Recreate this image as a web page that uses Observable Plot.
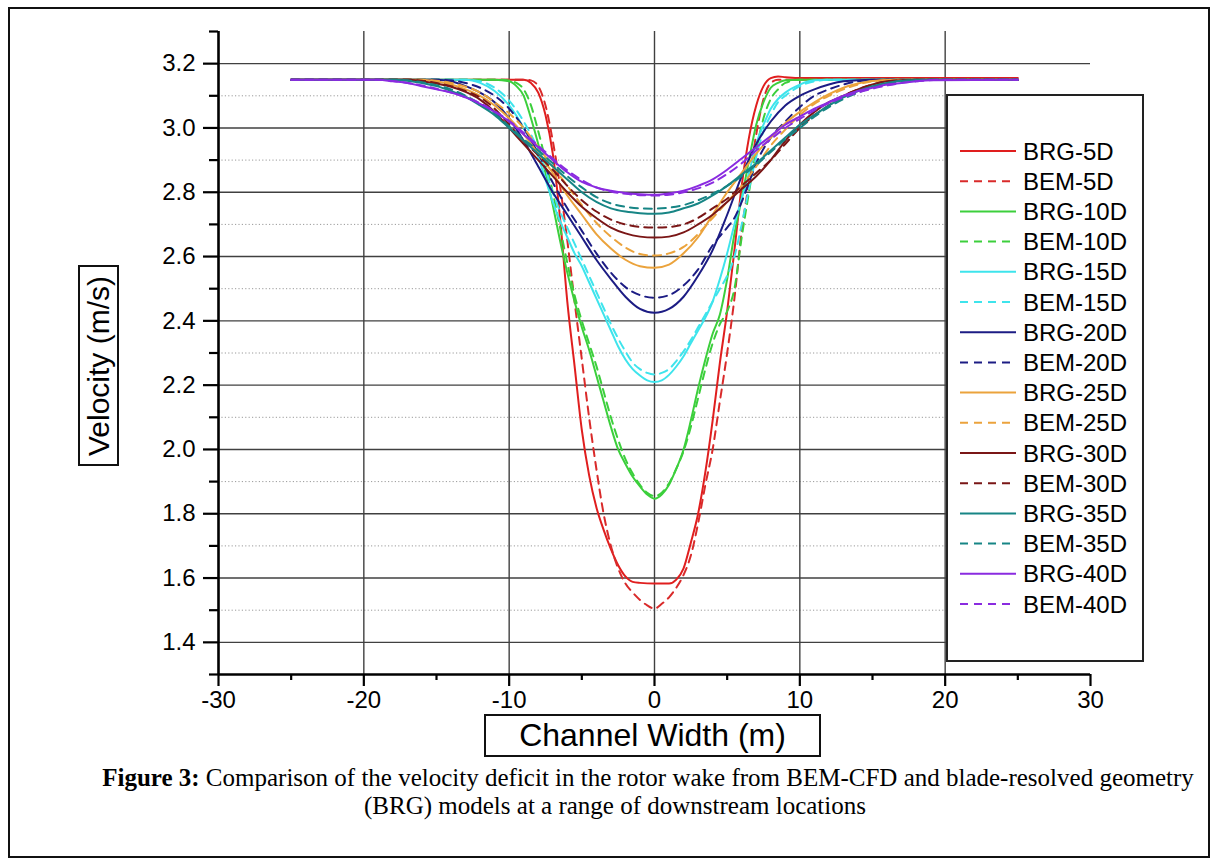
<!DOCTYPE html>
<html><head><meta charset="utf-8">
<script src="https://cdn.jsdelivr.net/npm/d3@7"></script>
<script src="https://cdn.jsdelivr.net/npm/@observablehq/plot@0.6"></script>
<style>
html,body{margin:0;padding:0;background:#fff;}
body{width:1218px;height:866px;position:relative;overflow:hidden;font-family:"Liberation Sans",Arial,sans-serif;}
#frame{position:absolute;left:8px;top:7px;width:1202px;height:851px;border:2px solid #111;box-sizing:border-box;}
#chart{position:absolute;left:0;top:0;}
#legend{position:absolute;left:946px;top:94px;width:198px;height:568px;border:2px solid #222;box-sizing:border-box;background:#fff;}
#ybox{position:absolute;left:78px;top:265px;width:41px;height:201px;border:2px solid #111;box-sizing:border-box;background:#fff;}
#ybox span{position:absolute;left:50%;top:50%;transform:translate(-50%,-50%) rotate(-90deg);white-space:nowrap;font-size:30px;}
#xbox{position:absolute;left:484px;top:714px;width:337px;height:43px;border:2px solid #111;box-sizing:border-box;background:#fff;text-align:center;font-size:32px;line-height:39px;}
.cap{position:absolute;left:0;width:1218px;text-align:center;font-family:"Liberation Serif","Times New Roman",serif;font-size:25px;color:#000;white-space:nowrap;}
</style></head>
<body>
<div id="frame"></div>
<div id="chart"></div>
<div id="legend"></div>
<div id="ybox"><span>Velocity (m/s)</span></div>
<div id="xbox">Channel Width (m)</div>
<div class="cap" id="cap1" style="top:764px;left:39px;"><b>Figure 3:</b> Comparison of the velocity deficit in the rotor wake from BEM-CFD and blade-resolved geometry</div>
<div class="cap" id="cap2" style="top:792px;left:6px;">(BRG) models at a range of downstream locations</div>
<script>
// ---- data (x in m, velocity in m/s) ----
const brg5 = [[-25,3.15],[-10,3.15],[-9,3.15],[-8.5,3.14],[-8,3.11],[-7.5,3.04],[-7,2.92],[-6.5,2.72],[-6,2.46],[-5.5,2.26],[-5,2.06],[-4.5,1.92],[-4,1.82],[-3.5,1.75],[-3,1.69],[-2.5,1.64],[-2,1.605],[-1.5,1.588],[-1,1.585],[0,1.583],[1,1.583],[1.5,1.595],[2,1.63],[2.5,1.71],[3,1.8],[3.5,1.93],[4,2.09],[4.5,2.27],[5,2.43],[5.5,2.62],[6,2.82],[6.5,2.97],[7,3.07],[7.5,3.13],[8,3.155],[8.5,3.16],[9,3.158],[10,3.155],[25,3.155]];
const bem5 = [[-25,3.15],[-9,3.15],[-8.5,3.148],[-8,3.13],[-7.5,3.07],[-7,2.96],[-6.5,2.82],[-6,2.65],[-5.5,2.46],[-5,2.28],[-4.5,2.1],[-4,1.94],[-3.5,1.8],[-3,1.7],[-2.5,1.63],[-2,1.583],[-1.5,1.555],[-1,1.532],[-0.5,1.515],[0,1.505],[0.5,1.52],[1,1.54],[1.5,1.57],[2,1.61],[2.5,1.67],[3,1.77],[3.5,1.89],[4,2.0],[4.5,2.15],[5,2.3],[5.5,2.47],[6,2.68],[6.5,2.83],[7,2.98],[7.5,3.09],[8,3.14],[8.5,3.15],[25,3.15]];
const brg10 = [[-25,3.15],[-11,3.15],[-10,3.145],[-9.5,3.13],[-9,3.1],[-8.5,3.03],[-8,2.95],[-7.5,2.86],[-7,2.76],[-6.5,2.65],[-6,2.55],[-5.5,2.46],[-5,2.38],[-4.5,2.31],[-4,2.23],[-3.5,2.15],[-3,2.07],[-2.5,2.0],[-2,1.955],[-1.5,1.915],[-1,1.885],[-0.5,1.86],[0,1.847],[0.5,1.86],[1,1.89],[1.5,1.94],[2,2.0],[2.5,2.09],[3,2.19],[3.5,2.28],[4,2.36],[4.5,2.42],[5,2.53],[5.5,2.67],[6,2.78],[6.5,2.9],[7,3.01],[7.5,3.08],[8,3.125],[8.5,3.14],[9,3.148],[10,3.15],[25,3.15]];
const bem10 = [[-25,3.15],[-10.5,3.15],[-10,3.148],[-9.5,3.14],[-9,3.12],[-8.5,3.07],[-8,2.99],[-7.5,2.9],[-7,2.8],[-6.5,2.69],[-6,2.58],[-5.5,2.48],[-5,2.4],[-4.5,2.33],[-4,2.26],[-3.5,2.18],[-3,2.1],[-2.5,2.03],[-2,1.97],[-1.5,1.925],[-1,1.89],[-0.5,1.865],[0,1.855],[0.5,1.865],[1,1.895],[1.5,1.94],[2,1.995],[2.5,2.07],[3,2.16],[3.5,2.25],[4,2.33],[4.5,2.39],[5,2.43],[5.5,2.5],[6,2.66],[6.5,2.8],[7,2.93],[7.5,3.03],[8,3.09],[8.5,3.12],[9,3.14],[10,3.15],[25,3.15]];
const brg15 = [[-25,3.15],[-13,3.15],[-12,3.14],[-11,3.115],[-10,3.07],[-9,3.0],[-8,2.91],[-7.5,2.84],[-7,2.77],[-6.5,2.71],[-6,2.66],[-5.5,2.61],[-5,2.57],[-4.5,2.52],[-4,2.47],[-3.5,2.42],[-3,2.37],[-2.5,2.32],[-2,2.28],[-1.5,2.25],[-1,2.23],[-0.5,2.215],[0,2.21],[0.5,2.215],[1,2.232],[1.5,2.258],[2,2.29],[2.5,2.33],[3,2.37],[3.5,2.41],[4,2.46],[4.5,2.53],[5,2.61],[5.5,2.7],[6,2.78],[6.5,2.86],[7,2.95],[7.5,3.01],[8,3.06],[8.5,3.09],[9,3.11],[10,3.135],[11,3.148],[12,3.15],[25,3.15]];
const bem15 = [[-25,3.15],[-13,3.15],[-12,3.145],[-11,3.125],[-10,3.085],[-9,3.02],[-8,2.93],[-7.5,2.87],[-7,2.8],[-6.5,2.74],[-6,2.69],[-5.5,2.64],[-5,2.59],[-4.5,2.54],[-4,2.49],[-3.5,2.44],[-3,2.39],[-2.5,2.345],[-2,2.305],[-1.5,2.27],[-1,2.25],[-0.5,2.238],[0,2.233],[0.5,2.238],[1,2.25],[1.5,2.275],[2,2.305],[2.5,2.34],[3,2.38],[3.5,2.42],[4,2.46],[4.5,2.5],[5,2.54],[5.5,2.6],[6,2.7],[6.5,2.81],[7,2.91],[7.5,2.99],[8,3.04],[8.5,3.08],[9,3.1],[10,3.13],[11,3.145],[12,3.15],[25,3.15]];
const brg20 = [[-25,3.15],[-15,3.15],[-14,3.145],[-13,3.13],[-12,3.11],[-11,3.08],[-10,3.03],[-9,2.96],[-8,2.88],[-7,2.8],[-6,2.73],[-5,2.66],[-4,2.59],[-3,2.53],[-2,2.475],[-1,2.437],[0,2.425],[1,2.437],[2,2.475],[3,2.54],[4,2.62],[5,2.73],[6,2.85],[7,2.95],[8,3.02],[9,3.07],[10,3.1],[11,3.12],[12,3.135],[13,3.145],[15,3.15],[25,3.15]];
const bem20 = [[-25,3.15],[-15,3.15],[-14,3.148],[-13,3.14],[-12,3.125],[-11,3.1],[-10,3.06],[-9,3.0],[-8,2.92],[-7,2.83],[-6,2.75],[-5,2.68],[-4,2.61],[-3,2.55],[-2,2.505],[-1,2.48],[0,2.472],[1,2.48],[2,2.51],[3,2.56],[4,2.635],[5,2.69],[5.5,2.72],[6,2.77],[6.5,2.83],[7,2.89],[8,2.97],[9,3.02],[10,3.065],[11,3.1],[12,3.12],[13,3.135],[14,3.145],[16,3.15],[25,3.15]];
const brg25 = [[-25,3.15],[-16,3.15],[-15,3.145],[-14,3.135],[-13,3.12],[-12,3.1],[-11,3.07],[-10,3.03],[-9,2.98],[-8,2.92],[-7,2.86],[-6,2.79],[-5,2.73],[-4,2.67],[-3,2.625],[-2,2.59],[-1,2.57],[0,2.565],[1,2.575],[2,2.61],[3,2.66],[4,2.73],[5,2.8],[6,2.86],[7,2.92],[8,2.97],[9,3.015],[10,3.05],[11,3.08],[12,3.105],[13,3.125],[14,3.138],[15,3.146],[17,3.15],[25,3.15]];
const bem25 = [[-25,3.15],[-16,3.15],[-15,3.147],[-14,3.14],[-13,3.128],[-12,3.11],[-11,3.08],[-10,3.045],[-9,3.0],[-8,2.94],[-7,2.88],[-6,2.82],[-5,2.76],[-4,2.705],[-3,2.662],[-2,2.628],[-1,2.608],[0,2.603],[1,2.61],[2,2.63],[3,2.67],[4,2.72],[5,2.77],[6,2.82],[7,2.88],[8,2.945],[9,2.995],[10,3.04],[11,3.075],[12,3.1],[13,3.12],[14,3.135],[15,3.145],[17,3.15],[25,3.15]];
const brg30 = [[-25,3.15],[-17,3.15],[-16,3.145],[-15,3.138],[-14,3.128],[-13,3.112],[-12,3.088],[-11,3.05],[-10,3.0],[-9,2.95],[-8,2.9],[-7,2.85],[-6,2.8],[-5,2.755],[-4,2.72],[-3,2.69],[-2,2.672],[-1,2.662],[0,2.659],[1,2.662],[2,2.675],[3,2.7],[4,2.73],[5,2.77],[6,2.81],[7,2.85],[8,2.9],[9,2.96],[10,3.01],[11,3.05],[12,3.08],[13,3.1],[14,3.12],[15,3.135],[16,3.145],[18,3.15],[25,3.15]];
const bem30 = [[-25,3.15],[-17,3.15],[-16,3.147],[-15,3.14],[-14,3.13],[-13,3.115],[-12,3.095],[-11,3.06],[-10,3.01],[-9,2.96],[-8,2.915],[-7,2.87],[-6,2.82],[-5,2.775],[-4,2.74],[-3,2.715],[-2,2.7],[-1,2.692],[0,2.69],[1,2.692],[2,2.7],[3,2.72],[4,2.75],[5,2.78],[6,2.82],[7,2.86],[8,2.9],[9,2.95],[10,3.0],[11,3.04],[12,3.07],[13,3.1],[14,3.12],[15,3.135],[16,3.145],[18,3.15],[25,3.15]];
const brg35 = [[-25,3.15],[-18,3.15],[-17,3.147],[-16,3.14],[-15,3.13],[-14,3.115],[-13,3.097],[-12,3.07],[-11,3.04],[-10,3.0],[-9,2.96],[-8,2.92],[-7,2.88],[-6,2.84],[-5,2.8],[-4,2.77],[-3,2.75],[-2,2.74],[-1,2.735],[0,2.733],[1,2.737],[2,2.75],[3,2.765],[4,2.79],[5,2.82],[6,2.855],[7,2.89],[8,2.93],[9,2.97],[10,3.01],[11,3.04],[12,3.07],[13,3.095],[14,3.115],[15,3.13],[16,3.14],[17,3.147],[19,3.15],[25,3.15]];
const bem35 = [[-25,3.15],[-18,3.15],[-17,3.148],[-16,3.142],[-15,3.133],[-14,3.12],[-13,3.1],[-12,3.075],[-11,3.045],[-10,3.005],[-9,2.965],[-8,2.93],[-7,2.89],[-6,2.85],[-5,2.815],[-4,2.785],[-3,2.765],[-2,2.755],[-1,2.75],[0,2.749],[1,2.752],[2,2.76],[3,2.775],[4,2.795],[5,2.82],[6,2.85],[7,2.885],[8,2.925],[9,2.965],[10,3.0],[11,3.035],[12,3.065],[13,3.09],[14,3.11],[15,3.125],[16,3.137],[17,3.145],[19,3.15],[25,3.15]];
const brg40 = [[-25,3.15],[-19,3.15],[-18,3.145],[-17,3.14],[-16,3.13],[-15,3.12],[-14,3.11],[-13,3.095],[-12,3.075],[-11,3.05],[-10,3.02],[-9,2.98],[-8,2.94],[-7,2.9],[-6,2.862],[-5,2.832],[-4,2.815],[-3,2.805],[-2,2.798],[-1,2.794],[0,2.792],[1,2.796],[2,2.805],[3,2.82],[4,2.84],[5,2.87],[6,2.905],[7,2.94],[8,2.975],[9,3.01],[10,3.035],[11,3.06],[12,3.08],[13,3.1],[14,3.115],[15,3.125],[16,3.135],[17,3.14],[18,3.145],[19,3.148],[25,3.15]];
const bem40 = [[-25,3.15],[-19,3.15],[-18,3.146],[-17,3.14],[-16,3.132],[-15,3.122],[-14,3.11],[-13,3.095],[-12,3.077],[-11,3.052],[-10,3.022],[-9,2.985],[-8,2.945],[-7,2.905],[-6,2.868],[-5,2.838],[-4,2.815],[-3,2.802],[-2,2.795],[-1,2.791],[0,2.79],[1,2.792],[2,2.8],[3,2.812],[4,2.83],[5,2.857],[6,2.89],[7,2.93],[8,2.965],[9,3.0],[10,3.028],[11,3.055],[12,3.077],[13,3.095],[14,3.11],[15,3.122],[16,3.132],[17,3.14],[18,3.145],[20,3.15],[25,3.15]];

const seriesNames = ["BRG-5D","BEM-5D","BRG-10D","BEM-10D","BRG-15D","BEM-15D","BRG-20D","BEM-20D","BRG-25D","BEM-25D","BRG-30D","BEM-30D","BRG-35D","BEM-35D","BRG-40D","BEM-40D"];
const seriesData = [brg5,bem5,brg10,bem10,brg15,bem15,brg20,bem20,brg25,bem25,brg30,bem30,brg35,bem35,brg40,bem40];
const seriesColors = ["#e01e1e","#d92a2a","#3ccf3c","#3ccf3c","#3ee4ec","#3ee4ec","#1c1c84","#1c1c84","#eba33c","#eba33c","#7a1616","#7a1616","#178585","#178585","#8a2be0","#8a2be0"];

const majorY = [1.4,1.6,1.8,2.0,2.2,2.4,2.6,2.8,3.0,3.2];
const minorY = [1.3,1.5,1.7,1.9,2.1,2.3,2.5,2.7,2.9,3.1,3.3];
const majorX = [-30,-20,-10,0,10,20,30];
const minorX = [-25,-15,-5,5,15,25];
const gridX = [-20,-10,0,10,20];

const dash = "8,6";
const lineMarks = seriesData.map((arr, i) => Plot.line(arr.map(([x, v]) => ({x, v})), {
  x: "x", y: "v", stroke: seriesColors[i], strokeWidth: 2,
  strokeDasharray: seriesNames[i].startsWith("BEM") ? dash : null,
  curve: "monotone-x"
}));

const chart = Plot.plot({
  width: 1218, height: 720,
  marginLeft: 218, marginRight: 128, marginTop: 31, marginBottom: 46,
  x: {domain: [-30, 30]},
  y: {domain: [1.3, 3.3]},
  style: {fontFamily: '"Liberation Sans", Arial, sans-serif', fontSize: "24px", color: "#000", background: "transparent", overflow: "visible"},
  marks: [
    Plot.ruleY(minorY.filter(d => d > 1.3 && d < 3.3), {stroke: "#9a9a9a", strokeDasharray: "1.2,2.2", strokeWidth: 1}),
    Plot.ruleY(majorY, {stroke: "#404040", strokeWidth: 1.4}),
    Plot.ruleX(gridX, {stroke: "#404040", strokeWidth: 1.4}),
    ...lineMarks,
    Plot.ruleX([-30], {stroke: "#000", strokeWidth: 2.6}),
    Plot.ruleY([1.3], {stroke: "#000", strokeWidth: 2.6}),
    Plot.axisY({ticks: majorY, tickSize: 15, tickPadding: 8, tickFormat: d => d.toFixed(1), label: null, fontSize: 24, strokeWidth: 2.2}),
    Plot.axisY({ticks: minorY, tickSize: 9, tickFormat: () => "", label: null, strokeWidth: 2.2}),
    Plot.axisX({ticks: majorX, tickSize: 12, tickPadding: 4, tickFormat: d => String(d), label: null, fontSize: 24, strokeWidth: 2.2}),
    Plot.axisX({ticks: minorX, tickSize: 6, tickFormat: () => "", label: null, strokeWidth: 2.2})
  ]
});
document.getElementById("chart").appendChild(chart);

// legend
const ns = "http://www.w3.org/2000/svg";
const lsvg = document.createElementNS(ns, "svg");
lsvg.setAttribute("width", 194); lsvg.setAttribute("height", 564);
lsvg.style.position = "absolute"; lsvg.style.left = "0px"; lsvg.style.top = "0px";
seriesNames.forEach((name, i) => {
  const cy = 55 + i * 30.2;
  const ln = document.createElementNS(ns, "line");
  ln.setAttribute("x1", 12); ln.setAttribute("x2", 68);
  ln.setAttribute("y1", cy); ln.setAttribute("y2", cy);
  ln.setAttribute("stroke", seriesColors[i]); ln.setAttribute("stroke-width", 2);
  if (name.startsWith("BEM")) ln.setAttribute("stroke-dasharray", dash);
  lsvg.appendChild(ln);
  const t = document.createElementNS(ns, "text");
  t.setAttribute("x", 75); t.setAttribute("y", cy);
  t.setAttribute("dy", "0.36em");
  t.setAttribute("font-size", 24);
  t.setAttribute("font-family", '"Liberation Sans", Arial, sans-serif');
  t.textContent = name;
  lsvg.appendChild(t);
});
document.getElementById("legend").appendChild(lsvg);
</script>
</body></html>
